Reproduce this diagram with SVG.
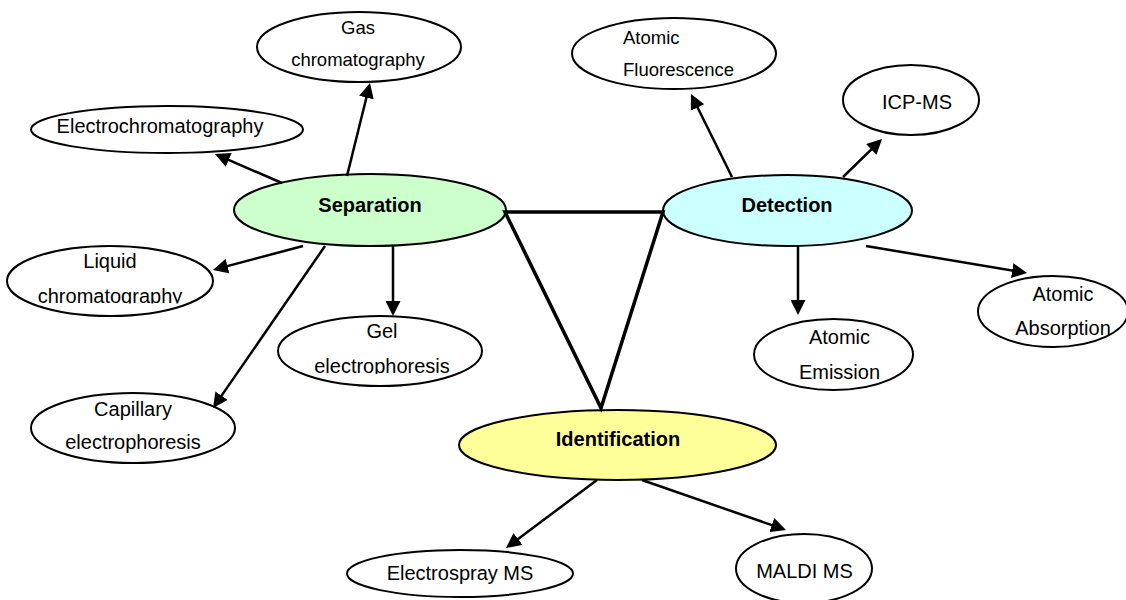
<svg xmlns="http://www.w3.org/2000/svg" width="1126" height="600" viewBox="0 0 1126 600">
<style>
  .n ellipse{stroke:#000;stroke-width:2;fill:#fff}
  text{font-family:"Liberation Sans",Arial,sans-serif;font-size:20px;fill:#000;text-anchor:middle}
  .s{font-size:18.5px}
  .b{font-weight:bold}
  .c line{stroke:#000;stroke-width:2.5;marker-end:url(#ah)}
  .tri{fill:none;stroke:#000;stroke-width:3.5;stroke-linejoin:miter}
</style>
<defs>
  <marker id="ah" markerUnits="userSpaceOnUse" markerWidth="15" markerHeight="15" refX="7" refY="7.5" orient="auto">
    <path d="M0,0 L15,7.5 L0,15 z" fill="#000"/>
  </marker>
  <clipPath id="clipLiquid"><rect x="0" y="240" width="240" height="63.5"/></clipPath>
  <clipPath id="clipGel"><rect x="270" y="310" width="230" height="64"/></clipPath>
</defs>
<rect width="1126" height="600" fill="#fff"/>

<g id="gas" class="n">
  <ellipse cx="359" cy="47" rx="102" ry="35"/>
  <text class="s" x="358" y="34">Gas</text>
  <text class="s" x="358" y="65.5">chromatography</text>
</g>
<g id="electrochromatography" class="n">
  <ellipse cx="167" cy="129.5" rx="136" ry="23.5"/>
  <text x="160" y="132.5">Electrochromatography</text>
</g>
<g id="separation" class="n">
  <ellipse cx="370" cy="210" rx="136" ry="36" style="fill:#ccffcc"/>
  <text class="b" x="370" y="212">Separation</text>
</g>
<g id="liquid" class="n">
  <ellipse cx="110" cy="281" rx="103" ry="35"/>
  <text x="110" y="268">Liquid</text>
  <text x="110" y="302.7" clip-path="url(#clipLiquid)">chromatography</text>
</g>
<g id="gel" class="n">
  <ellipse cx="380" cy="351" rx="102" ry="35"/>
  <text x="382" y="338">Gel</text>
  <text x="382" y="372.7" clip-path="url(#clipGel)">electrophoresis</text>
</g>
<g id="capillary" class="n">
  <ellipse cx="133" cy="428" rx="102" ry="35"/>
  <text x="133" y="415.5">Capillary</text>
  <text x="133" y="449">electrophoresis</text>
</g>
<g id="fluorescence" class="n">
  <ellipse cx="674" cy="53.5" rx="102" ry="35.5"/>
  <text class="s" x="623" y="44.3" style="text-anchor:start">Atomic</text>
  <text class="s" x="623" y="76" style="text-anchor:start">Fluorescence</text>
</g>
<g id="icpms" class="n">
  <ellipse cx="911" cy="100" rx="68" ry="35"/>
  <text x="917" y="109">ICP-MS</text>
</g>
<g id="detection" class="n">
  <ellipse cx="787.5" cy="210.5" rx="124.5" ry="35.5" style="fill:#ccffff"/>
  <text class="b" x="787" y="212">Detection</text>
</g>
<g id="emission" class="n">
  <ellipse cx="833.5" cy="354.5" rx="79.5" ry="35.5"/>
  <text x="839.5" y="344">Atomic</text>
  <text x="839.5" y="379">Emission</text>
</g>
<g id="absorption" class="n">
  <ellipse cx="1053" cy="311.5" rx="75" ry="35.5"/>
  <text x="1063" y="300.5">Atomic</text>
  <text x="1063" y="335">Absorption</text>
</g>
<g id="identification" class="n">
  <ellipse cx="617.5" cy="445" rx="158.5" ry="35" style="fill:#ffff99"/>
  <text class="b" x="618" y="446">Identification</text>
</g>
<g id="electrospray" class="n">
  <ellipse cx="460" cy="573.5" rx="113" ry="23.5"/>
  <text x="460" y="580">Electrospray MS</text>
</g>
<g id="maldi" class="n">
  <ellipse cx="804" cy="568.5" rx="68" ry="34.5"/>
  <text x="804.5" y="578">MALDI MS</text>
</g>

<g id="connectors" class="c">
  <polygon class="tri" points="505,212 663,212 601,408"/>
  <line x1="282" y1="183" x2="222.3" y2="157.2"/>
  <line x1="347" y1="176" x2="368.1" y2="90.8"/>
  <line x1="303" y1="246" x2="220.7" y2="267.9"/>
  <line x1="393" y1="246" x2="393" y2="308"/>
  <line x1="325" y1="246" x2="217.6" y2="401.4"/>
  <line x1="732" y1="177" x2="694.5" y2="101.2"/>
  <line x1="843" y1="177" x2="876.3" y2="144.6"/>
  <line x1="798" y1="246" x2="798" y2="307"/>
  <line x1="866" y1="246" x2="1019.1" y2="271.7"/>
  <line x1="597" y1="480" x2="512.4" y2="543.2"/>
  <line x1="642" y1="480" x2="778.4" y2="527.4"/>
</g>
</svg>
